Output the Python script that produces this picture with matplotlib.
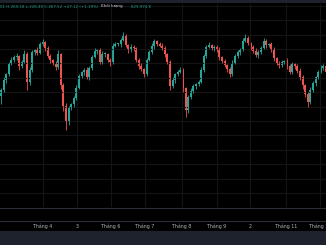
import matplotlib
matplotlib.use("Agg")
from matplotlib import pyplot as plt
from matplotlib.patches import Rectangle
from matplotlib.lines import Line2D
import matplotlib.transforms as mtransforms

# daily closes (arbitrary price units)
closes = [110, 120, 126, 136, 140, 143, 144, 134, 138, 146,
          118, 130, 148, 150, 147, 156, 158, 152, 144, 140,
          137, 133, 146, 115, 94, 78, 92, 96, 102, 112,
          124, 128, 130, 123, 132, 143, 149, 150, 138, 146,
          146, 140, 138, 154, 156, 156, 160, 164, 155, 150,
          153, 152, 140, 134, 131, 126, 140, 148, 154, 159,
          156, 154, 152, 146, 138, 114, 120, 126, 128, 130,
          112, 90, 103, 109, 114, 116, 118, 130, 144, 153,
          155, 152, 153, 150, 143, 139, 135, 131, 126, 137,
          144, 148, 151, 159, 162, 157, 153, 149, 145, 148,
          152, 159, 155, 156, 150, 142, 137, 135, 138, 139,
          134, 128, 136, 134, 129, 123, 115, 106, 98, 110,
          117, 123, 128, 132, 134, 128]
first_open = 104
# wick lengths above / below the body
up_wick = [2, 3, 1, 2, 3, 2, 3, 1, 2, 4, 2, 3, 2, 1, 3, 2, 3, 1, 2, 2,
           1, 2, 4, 1, 2, 3, 2, 1, 2, 3, 2, 1, 2, 3, 2, 2, 3, 1, 2, 3,
           2, 1, 2, 3, 2, 1, 2, 4, 2, 1, 3, 2, 1, 2, 3, 1, 2, 2, 3, 2,
           1, 2, 3, 2, 1, 2, 3, 1, 2, 3, 2, 1, 2, 3, 2, 1, 2, 3, 2, 2,
           3, 1, 2, 2, 3, 1, 2, 1, 2, 3, 2, 2, 1, 3, 4, 2, 1, 2, 3, 2,
           2, 3, 2, 1, 2, 3, 1, 2, 2, 1, 3, 2, 2, 1, 2, 3, 2, 1, 2, 3,
           2, 1, 2, 3, 2, 2]
dn_wick = [8, 2, 3, 2, 1, 2, 3, 4, 2, 1, 8, 3, 2, 3, 2, 1, 2, 3, 2, 3,
           2, 3, 2, 4, 5, 8, 3, 2, 3, 2, 1, 2, 3, 2, 3, 2, 1, 3, 2, 2,
           3, 2, 4, 2, 1, 2, 3, 1, 2, 3, 2, 3, 2, 3, 2, 3, 2, 1, 2, 3,
           2, 1, 2, 3, 2, 4, 2, 3, 2, 1, 4, 7, 3, 2, 2, 3, 2, 1, 2, 2,
           1, 2, 3, 2, 3, 2, 2, 3, 3, 2, 1, 2, 3, 2, 1, 2, 3, 2, 2, 3,
           2, 1, 3, 2, 2, 3, 2, 3, 2, 2, 3, 2, 2, 3, 2, 3, 4, 3, 5, 2,
           2, 3, 2, 1, 2, 3]

tick_pos = [16.2, 29.2, 42.3, 55.4, 69.6, 83.1, 95.8, 109.6, 122.7]
tick_labels = ["Tháng 4", "3", "Tháng 6", "Tháng 7", "Tháng 8",
               "Tháng 9", "2", "Tháng 11", "Tháng 12"]
price_grid = [7, 21, 36, 50, 65, 79, 93, 108, 122, 137, 151, 165, 180, 194]

UP = "#26a69a"
DOWN = "#ef5350"
W, H = 326, 245

opens = [first_open] + closes[:-1]
idx = list(range(len(closes)))
highs = [max(o, c) + u for o, c, u in zip(opens, closes, up_wick)]
lows = [min(o, c) - d for o, c, d in zip(opens, closes, dn_wick)]
colors = [UP if c >= o else DOWN for o, c in zip(opens, closes)]

fig = plt.figure(figsize=(W / 100, H / 100), dpi=100, facecolor="black")

# top / bottom panels of the terminal
fig.patches.append(Rectangle((0, 0), 1, 14 / H, transform=fig.transFigure,
                             facecolor="#1e222d", edgecolor="none"))
fig.patches.append(Rectangle((0, 1 - 3 / H), 1, 3 / H, transform=fig.transFigure,
                             facecolor="#1e222d", edgecolor="none"))

ax = fig.add_axes([0, 1 - 207 / H, 1, 203 / H])
ax.set_facecolor("black")
for s in ax.spines.values():
    s.set_visible(False)
ax.set_xlim(-1 / 2.6, 325 / 2.6)
ax.set_ylim(-7, 196)
ax.set_xticks(tick_pos)
ax.set_yticks(price_grid)
ax.tick_params(length=0, labelbottom=False, labelleft=False)
ax.grid(True, color="#141414", linewidth=0.8)

ax.vlines(idx, lows, highs, colors=colors, linewidth=0.6)
bottoms = [min(o, c) for o, c in zip(opens, closes)]
heights = [max(abs(c - o), 0.6) for o, c in zip(opens, closes)]
ax.bar(idx, heights, bottom=bottoms, width=0.7, color=colors, linewidth=0)

# separator lines of the empty volume strip / time scale
for ypx in (207.5, 220.5):
    fig.add_artist(Line2D([0, 1], [1 - ypx / H] * 2, transform=fig.transFigure,
                          color="#2a2e39", linewidth=0.8))

trans = mtransforms.blended_transform_factory(ax.transData, fig.transFigure)
for p, lab in zip(tick_pos, tick_labels):
    fig.text(p, 1 - 226 / H, lab, transform=trans, ha="center", va="center",
             color="#b2b5be", fontsize=3.4)

# legend line at the top
ty = 1 - 6.5 / H
fig.text(0.0, ty, "01 H:269.18 L:228.49 C:267.52 +27.12 (+1.19%)",
         color="#1f9e8c", fontsize=2.9, va="center")
fig.text(101 / W, ty, "Khối lượng", color="#d1d4dc", fontsize=2.9, va="center")
fig.text(131 / W, ty, "829.974 K", color="#1f9e8c", fontsize=2.9, va="center")

fig.savefig("out.png", dpi=100, facecolor="black")
